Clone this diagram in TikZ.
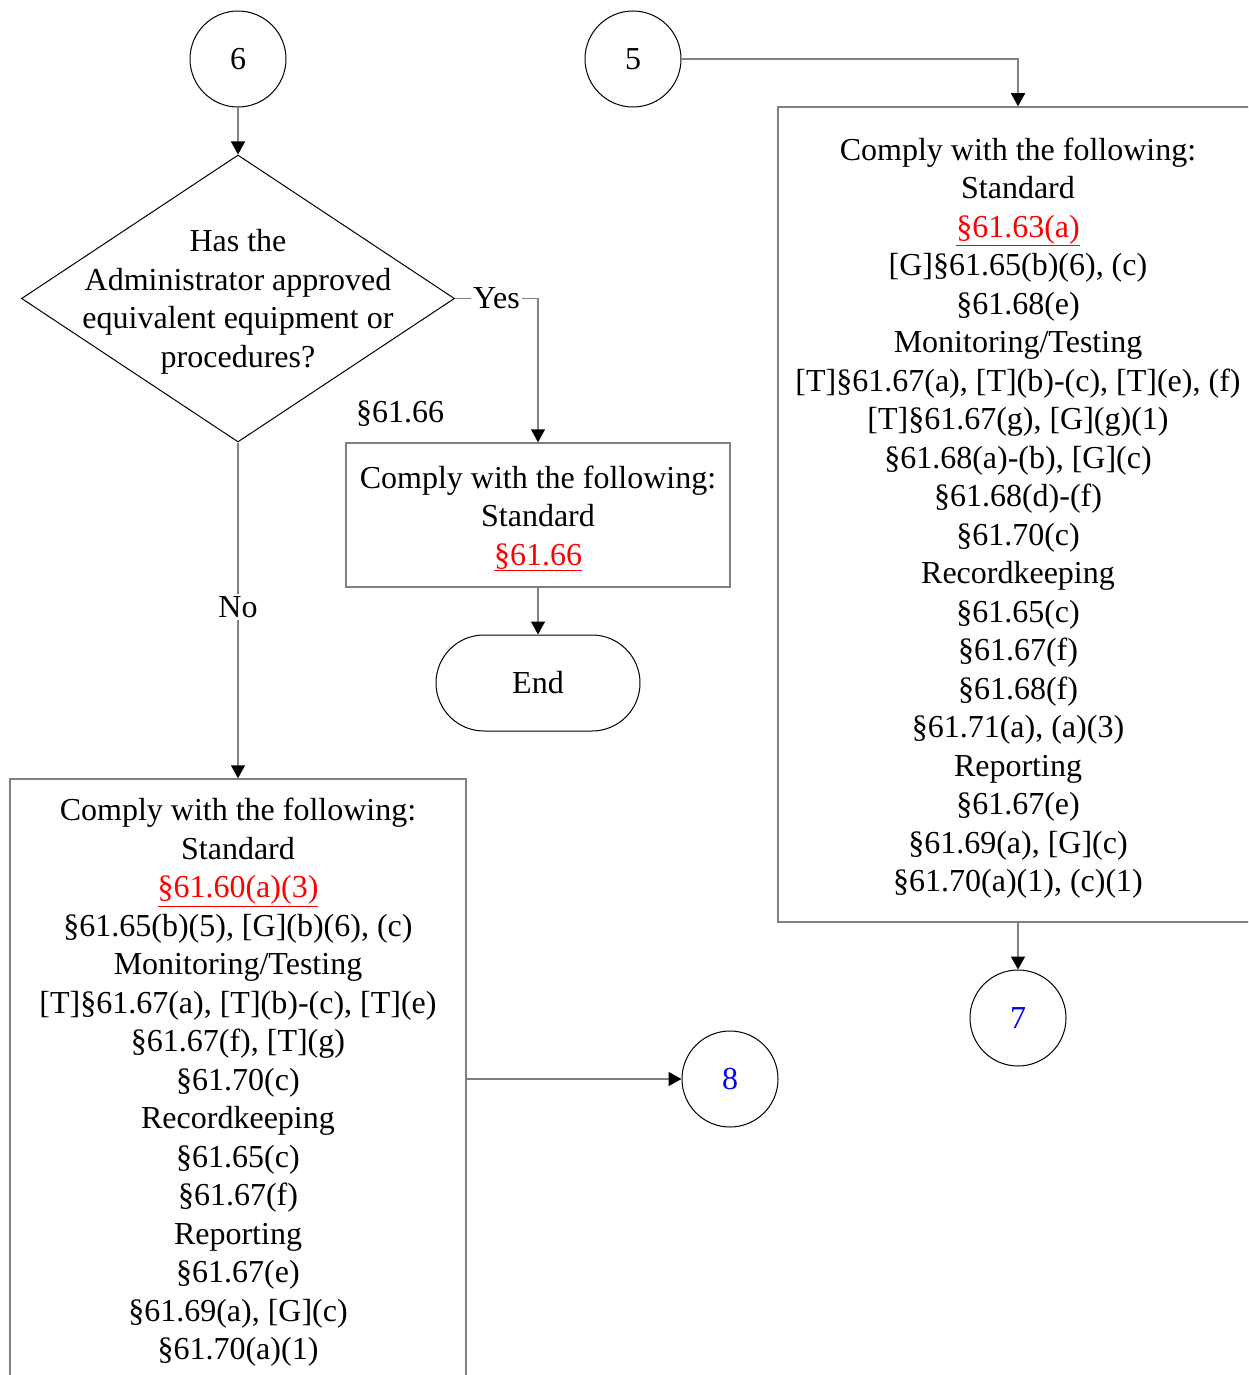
\documentclass[tikz,border=0pt]{standalone}
\usepackage{fontspec}
\setmainfont{Liberation Serif}
\usetikzlibrary{arrows.meta,shapes.geometric,shapes.misc}
\definecolor{lineGrey}{HTML}{808080}
\newcommand\reflink[1]{\textcolor{red}{\underline{#1}}}
\newcommand\firstlift{\rule{0pt}{29.5pt}}
\begin{document}
\begin{tikzpicture}[x=1pt,y=-1pt,
  every node/.style={font=\fontsize{32}{38.5}\selectfont},
  conn/.style={draw=lineGrey, line width=1.5pt, -{Triangle[length=13pt,width=14pt,color=black]}},
  circ/.style={circle, draw=black, line width=1pt, minimum size=96pt, inner sep=0pt},
  box/.style={rectangle, draw=lineGrey, line width=1.5pt, align=center, inner sep=0pt},
  lbl/.style={fill=white, inner sep=2pt},
  decision/.style={diamond, draw=black, line width=1pt, minimum width=433pt, minimum height=287pt, inner sep=0pt},
  term/.style={rounded rectangle, draw=black, line width=1pt, minimum width=204pt, minimum height=96pt, inner sep=0pt}]
\clip (0,0) rectangle (1248,1375);
\fill[white] (0,0) rectangle (1248,1375);

\node[circ] (c6) at (238,59) {6};
\node[circ] (c5) at (633,59) {5};

\node[decision] (d) at (238,298.5) {};
\node[align=center] (dtxt) at (238,302) {Has the\\Administrator approved\\equivalent equipment or\\procedures?};

\node[box, minimum width=384pt, minimum height=144pt] (yb) at (538,515)
  {\firstlift Comply with the following:\\Standard\\\reflink{§61.66}};
\node (ref) at (400,414) {§61.66};

\node[term] (end) at (538,683) {End};

\node[box, minimum width=456pt, minimum height=600pt] (bb) at (238,1079)
  {\firstlift Comply with the following:\\Standard\\\reflink{§61.60(a)(3)}\\§61.65(b)(5), [G](b)(6), (c)\\Monitoring/Testing\\{}[T]§61.67(a), [T](b)-(c), [T](e)\\§61.67(f), [T](g)\\§61.70(c)\\Recordkeeping\\§61.65(c)\\§61.67(f)\\Reporting\\§61.67(e)\\§61.69(a), [G](c)\\§61.70(a)(1)};

\node[circ, text=blue] (c8) at (730,1079) {8};

\node[box, minimum width=480pt, minimum height=815pt] (rb) at (1018,514.5)
  {\firstlift Comply with the following:\\Standard\\\reflink{§61.63(a)}\\{}[G]§61.65(b)(6), (c)\\§61.68(e)\\Monitoring/Testing\\{}[T]§61.67(a), [T](b)-(c), [T](e), (f)\\{}[T]§61.67(g), [G](g)(1)\\§61.68(a)-(b), [G](c)\\§61.68(d)-(f)\\§61.70(c)\\Recordkeeping\\§61.65(c)\\§61.67(f)\\§61.68(f)\\§61.71(a), (a)(3)\\Reporting\\§61.67(e)\\§61.69(a), [G](c)\\§61.70(a)(1), (c)(1)};

\node[circ, text=blue] (c7) at (1018,1018) {7};

\draw[conn] (c6) -- (d.north);
\draw[conn] (d.east) -| node[lbl, pos=0.25] {Yes} (yb.north);
\draw[conn] (d.south) -- node[lbl, pos=0.49] {No} (bb.north);
\draw[conn] (yb.south) -- (end.north);
\draw[conn] (c5.east) -| (rb.north);
\draw[conn] (rb.south) -- (c7.north);
\draw[conn] (bb.east) -- (c8.west);
\end{tikzpicture}
\end{document}
